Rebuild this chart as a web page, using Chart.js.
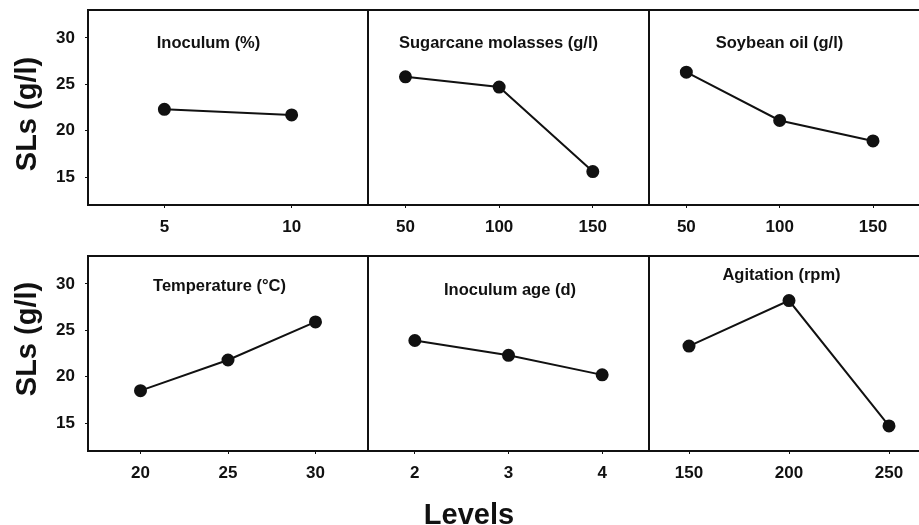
<!DOCTYPE html>
<html>
<head>
<meta charset="utf-8">
<script src="https://cdn.jsdelivr.net/npm/chart.js@4.4.0/dist/chart.umd.min.js"></script>
<style>
  html, body { margin: 0; padding: 0; background: #fff; overflow: hidden; }
  #wrap { position: relative; width: 919px; height: 525px; overflow: hidden; }
  #wrap canvas { position: absolute; }
  #levels {
    position: absolute; left: 369px; width: 200px; top: 498px;
    text-align: center; line-height: 29px;
    font: bold 29px "Liberation Sans", Arial, sans-serif; color: #111;
  }
</style>
</head>
<body>
<div id="wrap">
  <canvas id="c1"></canvas>
  <canvas id="c2"></canvas>
  <canvas id="c3"></canvas>
  <canvas id="c4"></canvas>
  <canvas id="c5"></canvas>
  <canvas id="c6"></canvas>
  <div id="levels">Levels</div>
</div>
<script>
// Factor names and their tested levels
const factorNames = [
  'Inoculum (%)', 'Sugarcane molasses (g/l)', 'Soybean oil (g/l)',
  'Temperature (\u00B0C)', 'Inoculum age (d)', 'Agitation (rpm)'
];
const inoculumLevels    = [5, 10];
const molassesLevels    = [50, 100, 150];
const soybeanLevels     = [50, 100, 150];
const temperatureLevels = [20, 25, 30];
const ageLevels         = [2, 3, 4];
const agitationLevels   = [150, 200, 250];

// Mean SLs yield (g/l) at each level
const inoculumSLs    = [22.3, 21.7];
const molassesSLs    = [25.8, 24.7, 15.6];
const soybeanSLs     = [26.3, 21.1, 18.9];
const temperatureSLs = [18.5, 21.8, 25.9];
const ageSLs         = [23.9, 22.3, 20.2];
const agitationSLs   = [23.3, 28.2, 14.7];

// Shared response axis
const yTicks = [15, 20, 25, 30];
const yTitle = 'SLs (g/l)';

const FONT = '"Liberation Sans", Arial, sans-serif';
const INK = '#111';

// Frame around each panel's plotting area
const boxPlugin = {
  id: 'panelBox',
  afterDatasetsDraw(chart) {
    const a = chart.chartArea, ctx = chart.ctx;
    ctx.save();
    ctx.strokeStyle = INK;
    ctx.lineWidth = 2;
    ctx.strokeRect(a.left, a.top, a.right - a.left, a.bottom - a.top);
    ctx.restore();
  }
};

// Factor name inside the panel, and optional rotated response title
const textPlugin = {
  id: 'panelText',
  afterDraw(chart, args, opts) {
    const a = chart.chartArea, ctx = chart.ctx;
    ctx.save();
    ctx.fillStyle = INK;
    ctx.textAlign = 'center';
    ctx.textBaseline = 'middle';
    ctx.font = 'bold 16.5px ' + FONT;
    ctx.fillText(opts.text, a.left + opts.dx, a.top + opts.dy);
    if (opts.yTitle) {
      ctx.translate(opts.yTitleX, opts.yTitleY);
      ctx.rotate(-Math.PI / 2);
      ctx.font = 'bold 29px ' + FONT;
      ctx.fillText(opts.yTitle, 0, 0);
    }
    ctx.restore();
  }
};

function makePanel(id, cfg) {
  const cv = document.getElementById(id);
  cv.width = cfg.w; cv.height = cfg.h;
  cv.style.left = cfg.left + 'px';
  cv.style.top = cfg.top + 'px';
  const levels = cfg.levels;
  return new Chart(cv, {
    type: 'line',
    data: {
      datasets: [{
        data: levels.map((x, i) => ({ x: x, y: cfg.values[i] })),
        borderColor: INK,
        borderWidth: 2,
        backgroundColor: INK,
        pointBackgroundColor: INK,
        pointBorderColor: INK,
        pointRadius: 5.5,
        tension: 0,
        clip: false
      }]
    },
    options: {
      responsive: false,
      animation: false,
      events: [],
      layout: { autoPadding: false, padding: { left: cfg.padL, right: cfg.padR, top: 10, bottom: 0 } },
      plugins: {
        legend: { display: false },
        tooltip: { enabled: false },
        panelText: {
          text: cfg.title, dx: cfg.tdx, dy: cfg.tdy,
          yTitle: cfg.showY ? yTitle : null,
          yTitleX: 28, yTitleY: cfg.yTitleY
        }
      },
      scales: {
        x: {
          type: 'linear',
          min: cfg.xmin, max: cfg.xmax,
          afterBuildTicks: s => { s.ticks = levels.map(v => ({ value: v })); },
          afterFit: s => { s.height = 40; s.paddingLeft = 0; s.paddingRight = 0; },
          border: { display: false },
          grid: { drawOnChartArea: false, drawTicks: true, tickLength: 3, color: INK, lineWidth: 1 },
          ticks: {
            color: INK, padding: 9, maxRotation: 0,
            font: { family: FONT, size: 17, weight: 'bold' },
            callback: v => String(v)
          }
        },
        y: {
          display: cfg.showY,
          min: 12, max: 33,
          afterBuildTicks: s => { s.ticks = yTicks.map(v => ({ value: v })); },
          afterFit: s => {
            s.width = cfg.showY ? 88 : 0;
            s.paddingTop = 0; s.paddingBottom = 0;
          },
          border: { display: false },
          grid: { drawOnChartArea: false, drawTicks: true, tickLength: 3, color: INK, lineWidth: 1 },
          ticks: {
            color: INK, padding: 10,
            font: { family: FONT, size: 17, weight: 'bold' },
            callback: v => String(v)
          }
        }
      }
    },
    plugins: [boxPlugin, textPlugin]
  });
}

// Top row
makePanel('c1', { left: 0, top: 0, w: 370, h: 245, padL: 0, padR: 2, showY: true, yTitleY: 114,
  levels: inoculumLevels, values: inoculumSLs, xmin: 2, xmax: 13,
  title: factorNames[0], tdx: 120.5, tdy: 33.5 });
makePanel('c2', { left: 366, top: 0, w: 285, h: 245, padL: 2, padR: 2, showY: false,
  levels: molassesLevels, values: molassesSLs, xmin: 30, xmax: 180,
  title: factorNames[1], tdx: 130.5, tdy: 33 });
makePanel('c3', { left: 647, top: 0, w: 284, h: 245, padL: 2, padR: 2, showY: false,
  levels: soybeanLevels, values: soybeanSLs, xmin: 30, xmax: 180,
  title: factorNames[2], tdx: 130.5, tdy: 33 });

// Bottom row
makePanel('c4', { left: 0, top: 246, w: 370, h: 245, padL: 0, padR: 2, showY: true, yTitleY: 93,
  levels: temperatureLevels, values: temperatureSLs, xmin: 17, xmax: 33,
  title: factorNames[3], tdx: 131.5, tdy: 30 });
makePanel('c5', { left: 366, top: 246, w: 285, h: 245, padL: 2, padR: 2, showY: false,
  levels: ageLevels, values: ageSLs, xmin: 1.5, xmax: 4.5,
  title: factorNames[4], tdx: 142, tdy: 34.5 });
makePanel('c6', { left: 647, top: 246, w: 284, h: 245, padL: 2, padR: 2, showY: false,
  levels: agitationLevels, values: agitationSLs, xmin: 130, xmax: 270,
  title: factorNames[5], tdx: 132.5, tdy: 19.5 });
</script>
</body>
</html>
